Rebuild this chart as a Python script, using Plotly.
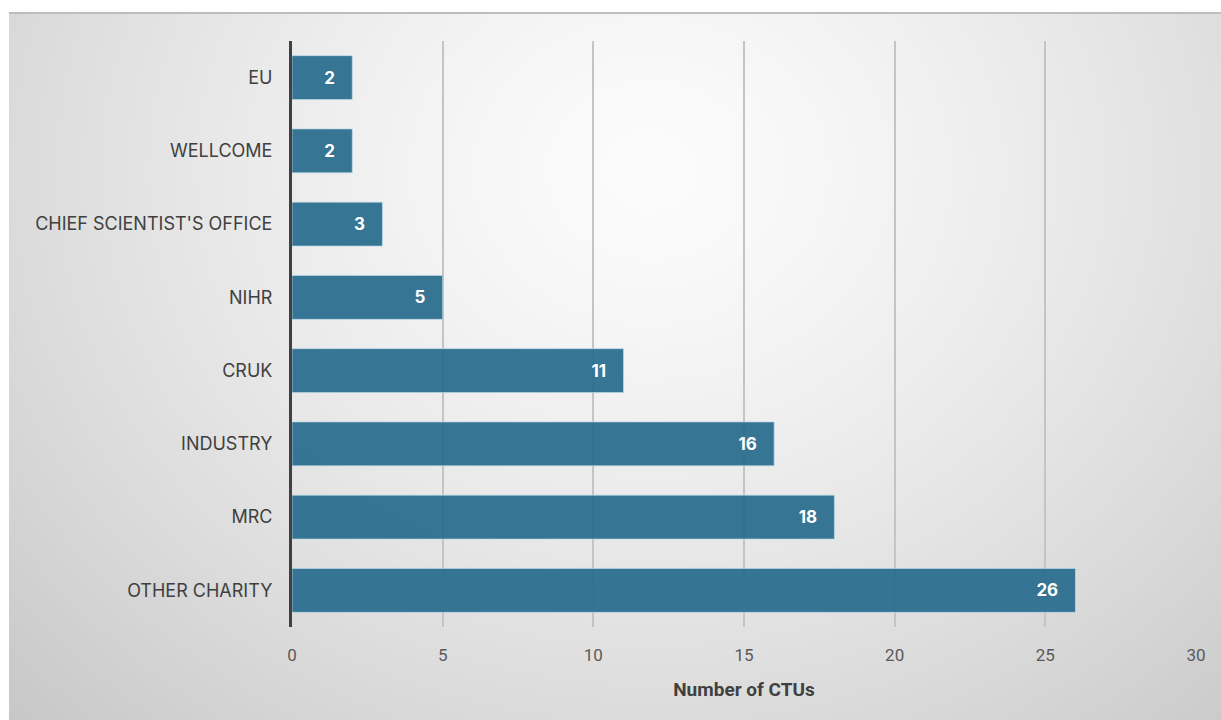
import zlib, struct, base64
import numpy as np
import plotly.graph_objects as go

# ---- data ----
categories = ["EU", "WELLCOME", "CHIEF SCIENTIST'S OFFICE", "NIHR", "CRUK",
              "INDUSTRY", "MRC", "OTHER CHARITY"]
values = [2, 2, 3, 5, 11, 16, 18, 26]
x_ticks = [0, 5, 10, 15, 20, 25, 30]
x_title = "Number of CTUs"

# ---- figure geometry ----
W, H = 1221, 720
ML, MR, MT, MB = 292, 25, 41, 93
PW, PH = W - ML - MR, H - MT - MB

# ---- radial gradient background as PNG ----
def png_gray(arr):
    h, w = arr.shape
    raw = b"".join(b"\x00" + arr[i].tobytes() for i in range(h))
    def chunk(t, d):
        c = struct.pack(">I", len(d)) + t + d
        return c + struct.pack(">I", zlib.crc32(t + d) & 0xffffffff)
    return (b"\x89PNG\r\n\x1a\n"
            + chunk(b"IHDR", struct.pack(">IIBBBBB", w, h, 8, 0, 0, 0, 0))
            + chunk(b"IDAT", zlib.compress(raw, 9))
            + chunk(b"IEND", b""))

bx0, by0 = 9, 13
bw, bh = W - bx0, H - by0
s = 2
gw, gh = bw // s, bh // s
yy, xx = np.mgrid[0:gh, 0:gw]
px = bx0 + xx * s
py = by0 + yy * s
cx, cy, rx, ry = 650, 170, 950, 820
t = np.clip(np.sqrt(((px - cx) / rx) ** 2 + ((py - cy) / ry) ** 2), 0, 1)
g = (252 - (252 - 196) * t ** 1.35).astype(np.uint8)
img_src = "data:image/png;base64," + base64.b64encode(png_gray(g)).decode()

def paper_x(p):
    return (p - ML) / PW

def paper_y(p):
    return 1 - (p - MT) / PH

fig = go.Figure()
fig.add_trace(go.Bar(
    x=values, y=categories, orientation="h",
    marker=dict(color="rgba(40,108,140,0.93)",
                line=dict(color="rgba(190,220,235,0.7)", width=1)),
    text=values,
    texttemplate="<b>%{x}</b>\u00a0\u00a0\u00a0",
    textposition="inside", insidetextanchor="end",
    textfont=dict(color="white", size=17, family="Inter, Roboto, sans-serif"),
    constraintext="none",
    hoverinfo="skip",
))

fig.add_layout_image(dict(
    source=img_src, xref="paper", yref="paper",
    x=paper_x(bx0), y=paper_y(by0),
    sizex=bw / PW, sizey=bh / PH,
    xanchor="left", yanchor="top", sizing="stretch", layer="below",
))

fig.add_shape(type="line", xref="paper", yref="paper",
              x0=paper_x(bx0), x1=paper_x(W), y0=paper_y(by0), y1=paper_y(by0),
              line=dict(color="#bdbdbd", width=2))

fig.update_layout(
    width=W, height=H,
    margin=dict(l=ML, r=MR, t=MT, b=MB),
    paper_bgcolor="white", plot_bgcolor="rgba(0,0,0,0)",
    bargap=0.40, showlegend=False,
    xaxis=dict(range=[0, 30], tickvals=x_ticks, ticks="",
               showgrid=True, gridcolor="#c4c4c4", gridwidth=1.5,
               zeroline=False, showline=False,
               tickfont=dict(family="Roboto, sans-serif", size=17, color="#595959"),
               ticklabelstandoff=16,
               title=dict(text="<b>" + x_title + "</b>", standoff=18,
                          font=dict(family="Roboto, sans-serif", size=19, color="#404040"))),
    yaxis=dict(autorange="reversed", ticks="", showgrid=False,
               showline=True, linecolor="#404040", linewidth=3,
               tickfont=dict(family="Inter, Roboto, sans-serif", size=18, color="#404040"),
               ticklabelstandoff=13),
)

fig.write_html("out.html")
